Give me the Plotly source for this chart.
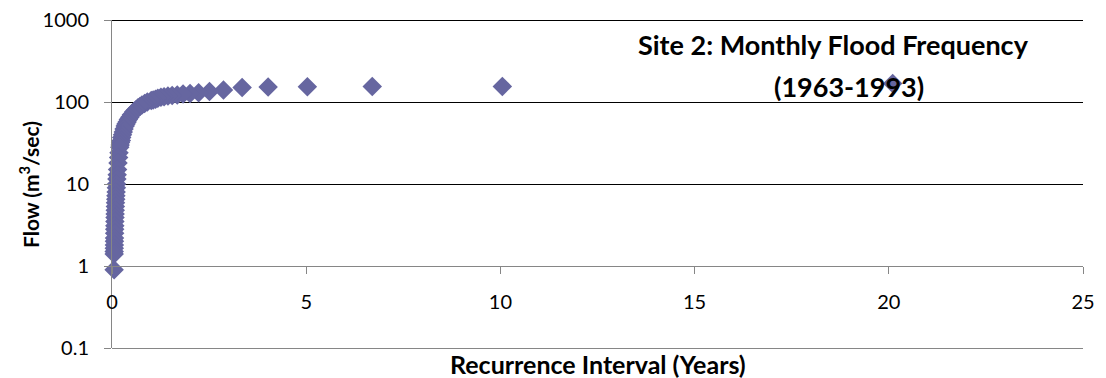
import math
import plotly.graph_objects as go

# Recurrence interval (years) and monthly peak flow (m3/sec)
recurrence_years = [20.1, 10.05, 6.7, 5.03, 4.02, 3.35, 2.87, 2.51, 2.23, 2.01,
                    1.83, 1.68, 1.55, 1.44, 1.34, 1.26, 1.18, 1.12, 1.06, 1.01,
                    0.91, 0.84, 0.77, 0.72, 0.67, 0.61, 0.56, 0.50, 0.46, 0.42,
                    0.39, 0.36, 0.34, 0.31, 0.29, 0.27, 0.25, 0.24, 0.22, 0.21,
                    0.20, 0.18, 0.17, 0.155, 0.144, 0.134, 0.126, 0.118, 0.112, 0.106,
                    0.100, 0.096, 0.091, 0.087, 0.084, 0.080, 0.077, 0.074, 0.072, 0.069,
                    0.067, 0.065, 0.063, 0.061, 0.059, 0.057, 0.056, 0.054]
flow_cms = [168, 155, 154, 153, 152, 150, 140, 134, 130, 127,
            125, 122, 120, 118, 116, 114, 111, 108, 106, 104,
            100, 96, 92, 88, 85, 80, 76, 70, 65, 61,
            57, 54, 51, 47, 43, 40, 37, 34, 32, 30,
            28, 24, 21, 18, 15, 13, 11.5, 10, 9, 8,
            7.2, 6.5, 5.9, 5.3, 4.8, 4.3, 3.9, 3.5, 3.1, 2.8,
            2.5, 2.2, 2.0, 1.8, 1.65, 1.5, 1.4, 0.9]

x_ticks = [0, 5, 10, 15, 20, 25]
y_ticks = [0.1, 1, 10, 100, 1000]
y_tick_text = ["0.1", "1", "10", "100", "1000"]
grid_levels = [10, 100, 1000]
y_range_log = [-1, 3]

FONT = "Lato, 'Open Sans', sans-serif"
AXIS_GRAY = "#868686"
MARKER = "rgb(102,102,160)"

# page body adds an 8px offset; plot area should sit at screen x 112..1083, y 20..348
OFF = 8
L, R, T, B = 112 - OFF, 1106 - 1083 + OFF, 20 - OFF, 378 - 348 + OFF
PW, PH = 1106 - L - R, 378 - T - B
HALF_PX = 0.5 / PH  # keeps 1px lines crisp


def px(sx):
    return (sx - 112) / PW


def py(sy):
    return 1 - (sy - 20) / PH


def yfrac(v):
    return (math.log10(v) - y_range_log[0]) / (y_range_log[1] - y_range_log[0])


fig = go.Figure()
fig.add_trace(go.Scatter(
    x=recurrence_years, y=flow_cms, mode="markers",
    marker=dict(symbol="diamond", size=15, color=MARKER, line=dict(width=0)),
    cliponaxis=False, showlegend=False,
))

for g in grid_levels:
    yy = yfrac(g) - HALF_PX
    fig.add_shape(type="line", xref="paper", yref="paper", x0=0, x1=1, y0=yy, y1=yy,
                  line=dict(color="black", width=1), layer="below")
yb = yfrac(y_ticks[0]) - HALF_PX
fig.add_shape(type="line", xref="paper", yref="paper", x0=0, x1=1, y0=yb, y1=yb,
              line=dict(color=AXIS_GRAY, width=1), layer="below")

fig.update_layout(
    width=1106, height=378,
    margin=dict(l=L, r=R, t=T, b=B, autoexpand=False),
    paper_bgcolor="white", plot_bgcolor="white",
    font=dict(family=FONT, size=20, color="black"),
    xaxis=dict(
        range=[0, 25], tickvals=x_ticks, ticktext=[str(t) for t in x_ticks],
        anchor="free", position=yfrac(1), automargin=False,
        showline=True, linecolor=AXIS_GRAY, linewidth=1,
        ticks="outside", ticklen=7, tickcolor=AXIS_GRAY,
        showgrid=False, zeroline=False, ticklabelstandoff=11,
        ticklabeloverflow="allow",
        tickfont=dict(family=FONT, size=20),
    ),
    yaxis=dict(
        type="log", range=y_range_log, tickvals=y_ticks, ticktext=y_tick_text,
        automargin=False,
        showline=True, linecolor=AXIS_GRAY, linewidth=1,
        ticks="outside", ticklen=7, tickcolor=AXIS_GRAY,
        showgrid=False, zeroline=False, ticklabelstandoff=11,
        ticklabeloverflow="allow",
        tickfont=dict(family=FONT, size=20),
    ),
    annotations=[
        dict(text="<b>Site 2: Monthly Flood Frequency</b>", xref="paper", yref="paper",
             x=px(833), y=py(45), xanchor="center", yanchor="middle",
             showarrow=False, font=dict(family=FONT, size=27)),
        dict(text="<b>(1963-1993)</b>", xref="paper", yref="paper",
             x=px(849), y=py(87), xanchor="center", yanchor="middle",
             showarrow=False, font=dict(family=FONT, size=27)),
        dict(text="<b>Recurrence Interval (Years)</b>", xref="paper", yref="paper",
             x=0.5, y=py(364), xanchor="center", yanchor="middle",
             showarrow=False, font=dict(family=FONT, size=25)),
        dict(text="<b>Flow (m<sup>3</sup>/sec)</b>", xref="paper", yref="paper",
             x=px(29), y=py(185), xanchor="center", yanchor="middle",
             textangle=-90, showarrow=False, font=dict(family=FONT, size=21)),
    ],
)

fig.write_html("out.html")
